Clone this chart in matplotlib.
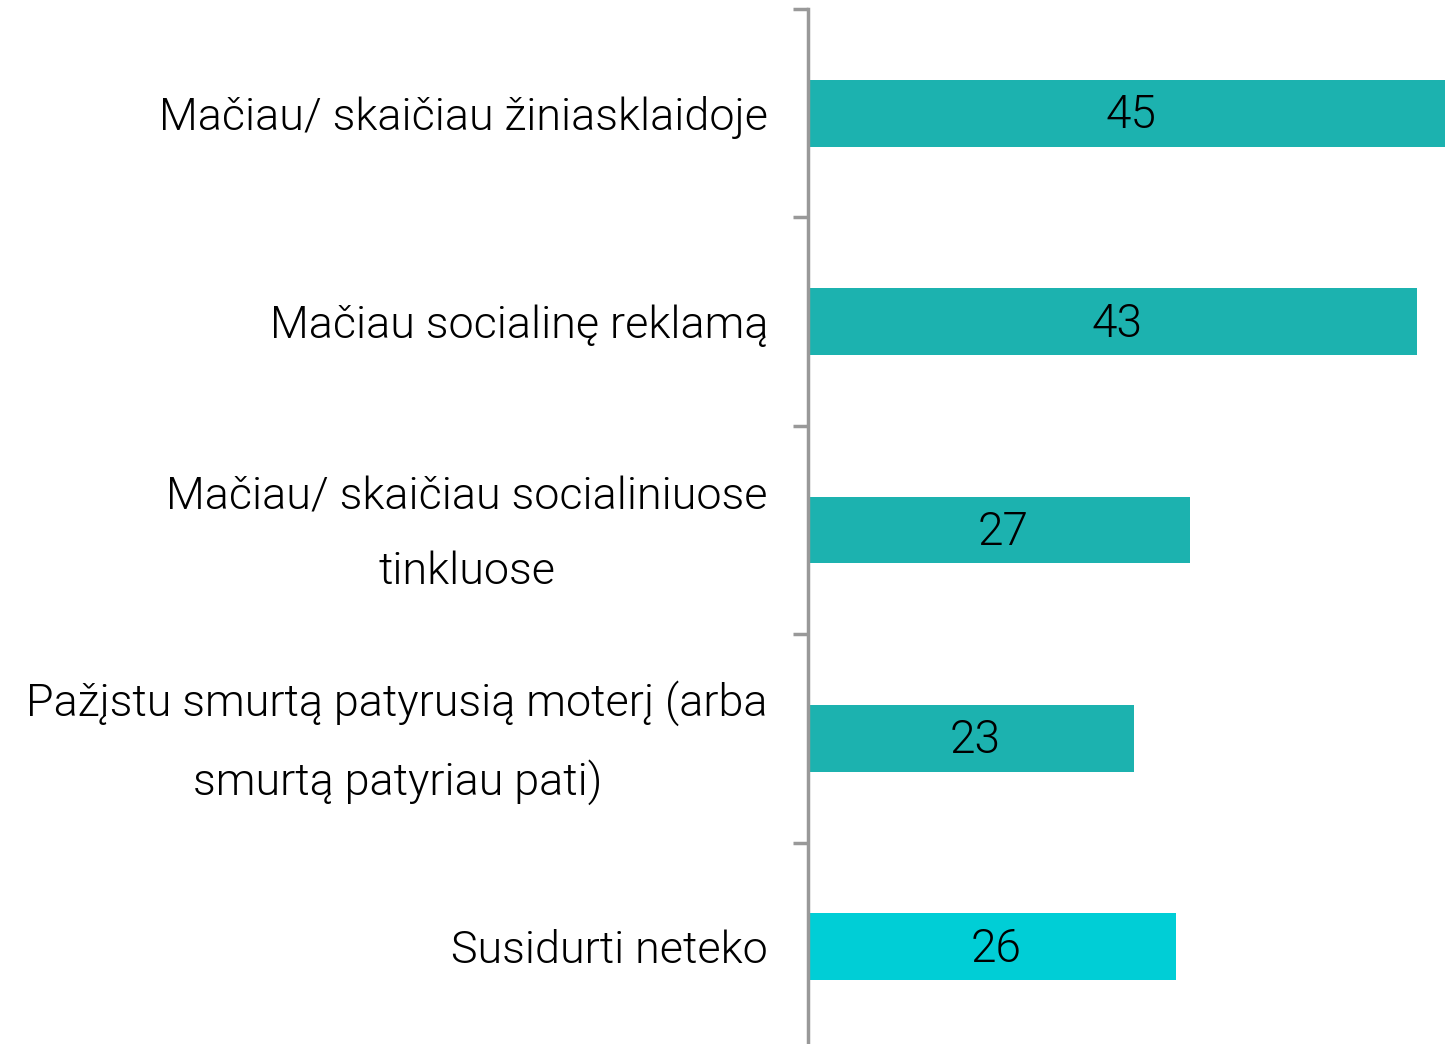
import matplotlib
matplotlib.use("Agg")
import matplotlib.pyplot as plt

categories = [
    "Mačiau/ skaičiau žiniasklaidoje",
    "Mačiau socialinę reklamą",
    "Mačiau/ skaičiau socialiniuose\ntinkluose",
    "Pažįstu smurtą patyrusią moterį (arba\nsmurtą patyriau pati)",
    "Susidurti neteko",
]
values = [45, 43, 27, 23, 26]
colors = ["#1cb2af", "#1cb2af", "#1cb2af", "#1cb2af", "#00ced6"]

plt.rcParams["font.family"] = ["Roboto", "DejaVu Sans"]

W, H = 1445, 1044
fig = plt.figure(figsize=(W / 100, H / 100), dpi=100)
# axes: x from 808 px to right edge; y from 9 px (top) to ~1051 px (below edge)
ax = fig.add_axes([808 / W, (H - 1051) / H, (W - 808) / W, (1051 - 9) / H])

ypos = list(range(len(categories)))
ax.barh(ypos, values, height=0.32, color=colors)
ax.set_xlim(0, 45)
ax.set_ylim(len(categories) - 0.5, -0.5)

for y, v in zip(ypos, values):
    ax.text(v / 2 + 0.3, y + 0.01, str(v), ha="center", va="center", fontsize=33,
            fontweight=300, color="black")

for y, lab in zip(ypos, categories):
    ax.text(-40 / 637 * 45, y + 0.02, lab, ha="right", va="center",
            multialignment="center", fontsize=32.3, fontweight=300,
            color="black", linespacing=1.95)

for s in ["top", "right", "bottom"]:
    ax.spines[s].set_visible(False)
ax.spines["left"].set_color("#999999")
ax.spines["left"].set_linewidth(2.5)
ax.set_xticks([])
ax.set_yticks([i - 0.5 for i in range(len(categories) + 1)])
ax.set_yticklabels([])
ax.tick_params(axis="y", direction="out", length=11, width=2.5, color="#999999")

fig.savefig("out.png", dpi=100)
